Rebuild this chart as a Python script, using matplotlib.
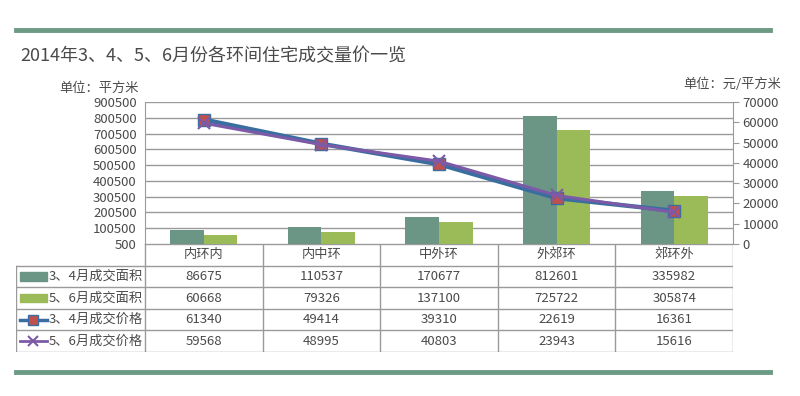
import matplotlib.pyplot as plt
from matplotlib.patches import Rectangle
from matplotlib.lines import Line2D

plt.rcParams['font.family'] = ['Noto Sans CJK SC', 'DejaVu Sans']

# data
rings = ['内环内', '内中环', '中外环', '外郊环', '郊环外']
area_34 = [86675, 110537, 170677, 812601, 335982]
area_56 = [60668, 79326, 137100, 725722, 305874]
price_34 = [61340, 49414, 39310, 22619, 16361]
price_56 = [59568, 48995, 40803, 23943, 15616]
series_names = ['3、4月成交面积', '5、6月成交面积', '3、4月成交价格', '5、6月成交价格']
left_ticks = list(range(500, 900501, 100000))
right_ticks = list(range(0, 70001, 10000))

DARK = '#6b9585'
LIGHT = '#9bbb59'
BLUE = '#3b6ea0'
RED = '#c0504d'
PURPLE = '#7d5aa8'
GRID = '#9a9a9a'
TXT = '#4a4a4a'

W, H = 800, 396
fig = plt.figure(figsize=(W / 100, H / 100), dpi=100)


def px(x0, y0, x1, y1):
    return [x0 / W, 1 - y1 / H, (x1 - x0) / W, (y1 - y0) / H]


# decorative rules and titles
fig.add_artist(Line2D([16 / W, 770 / W], [1 - 30 / H] * 2, color='#6b9a85', lw=3.5))
fig.add_artist(Line2D([16 / W, 770 / W], [1 - 372 / H] * 2, color='#6b9a85', lw=3.5))
fig.text(20 / W, 1 - 56 / H, '2014年3、4、5、6月份各环间住宅成交量价一览',
         fontsize=13, color=TXT, va='center', ha='left')
fig.text(139 / W, 1 - 88 / H, '单位：平方米', fontsize=9.5, color=TXT, ha='right', va='center')
fig.text(781 / W, 1 - 84 / H, '单位：元/平方米', fontsize=9.5, color=TXT, ha='right', va='center')

# chart
ax = fig.add_axes(px(145, 102, 733, 244))
x = list(range(len(rings)))
bw = 0.285
ax.bar([i - bw / 2 for i in x], area_34, width=bw, color=DARK, zorder=2)
ax.bar([i + bw / 2 for i in x], area_56, width=bw, color=LIGHT, zorder=2)
ax.set_xlim(-0.5, len(rings) - 0.5)
ax.set_ylim(left_ticks[0], left_ticks[-1])
ax.set_yticks(left_ticks)
ax.set_yticklabels([str(v) for v in left_ticks], fontsize=9.5, color=TXT)
ax.tick_params(axis='y', length=0, pad=6)
ax.set_xticks([])
ax.grid(axis='y', color=GRID, lw=1, zorder=0)
for s in ['top', 'bottom', 'right']:
    ax.spines[s].set_visible(False)
ax.spines['left'].set_color(GRID)

ax2 = ax.twinx()
ax2.set_ylim(right_ticks[0], right_ticks[-1])
ax2.set_yticks(right_ticks)
ax2.set_yticklabels([str(v) for v in right_ticks], fontsize=9.5, color=TXT)
ax2.tick_params(axis='y', length=4, color=GRID, pad=3)
for s in ['top', 'bottom', 'left']:
    ax2.spines[s].set_visible(False)
ax2.spines['right'].set_color(GRID)
ax2.plot(x, price_34, color=BLUE, lw=3.2, marker='s', ms=8, mfc=RED, mec=BLUE, mew=1, zorder=3)
ax2.plot(x, price_56, color=PURPLE, lw=2.2, marker='x', ms=8, mec=PURPLE, mew=1.5, zorder=4)

# data table
tb = fig.add_axes(px(16, 244, 733, 352))
unit = (733 - 145) / len(rings)          # pixels per category column
lab_left = -0.5 - (145 - 16) / unit
tb.set_xlim(lab_left, len(rings) - 0.5)
tb.set_ylim(5, 0)
tb.axis('off')
lc = dict(color=GRID, lw=1)
tb.plot([-0.5, len(rings) - 0.5], [0, 0], **lc)
for r in range(1, 6):
    tb.plot([lab_left, len(rings) - 0.5], [r, r], **lc)
tb.plot([lab_left, lab_left], [1, 5], **lc)
for c in range(len(rings) + 1):
    tb.plot([c - 0.5, c - 0.5], [0, 5], **lc)

for i, name in enumerate(rings):
    tb.text(i, 0.5, name, ha='center', va='center', fontsize=9.5, color=TXT)
rows = [area_34, area_56, price_34, price_56]
for r, vals in enumerate(rows):
    for i, v in enumerate(vals):
        tb.text(i, r + 1.5, str(v), ha='center', va='center', fontsize=9.5, color=TXT)

# row labels with legend keys
kx0 = lab_left + 4 / unit
kx1 = lab_left + 31 / unit
tb.add_patch(Rectangle((kx0, 1.3), kx1 - kx0, 0.4, color=DARK))
tb.add_patch(Rectangle((kx0, 2.3), kx1 - kx0, 0.4, color=LIGHT))
tb.plot([kx0, kx1], [3.5, 3.5], color=BLUE, lw=2.5)
tb.plot([(kx0 + kx1) / 2], [3.5], marker='s', ms=7, mfc=RED, mec=BLUE)
tb.plot([kx0, kx1], [4.5, 4.5], color=PURPLE, lw=2)
tb.plot([(kx0 + kx1) / 2], [4.5], marker='x', ms=7, mec=PURPLE, mew=1.5)
for r, name in enumerate(series_names):
    tb.text(kx1 + 2 / unit, r + 1.5, name, ha='left', va='center', fontsize=9.5, color=TXT)

fig.savefig('out.png', dpi=100)
